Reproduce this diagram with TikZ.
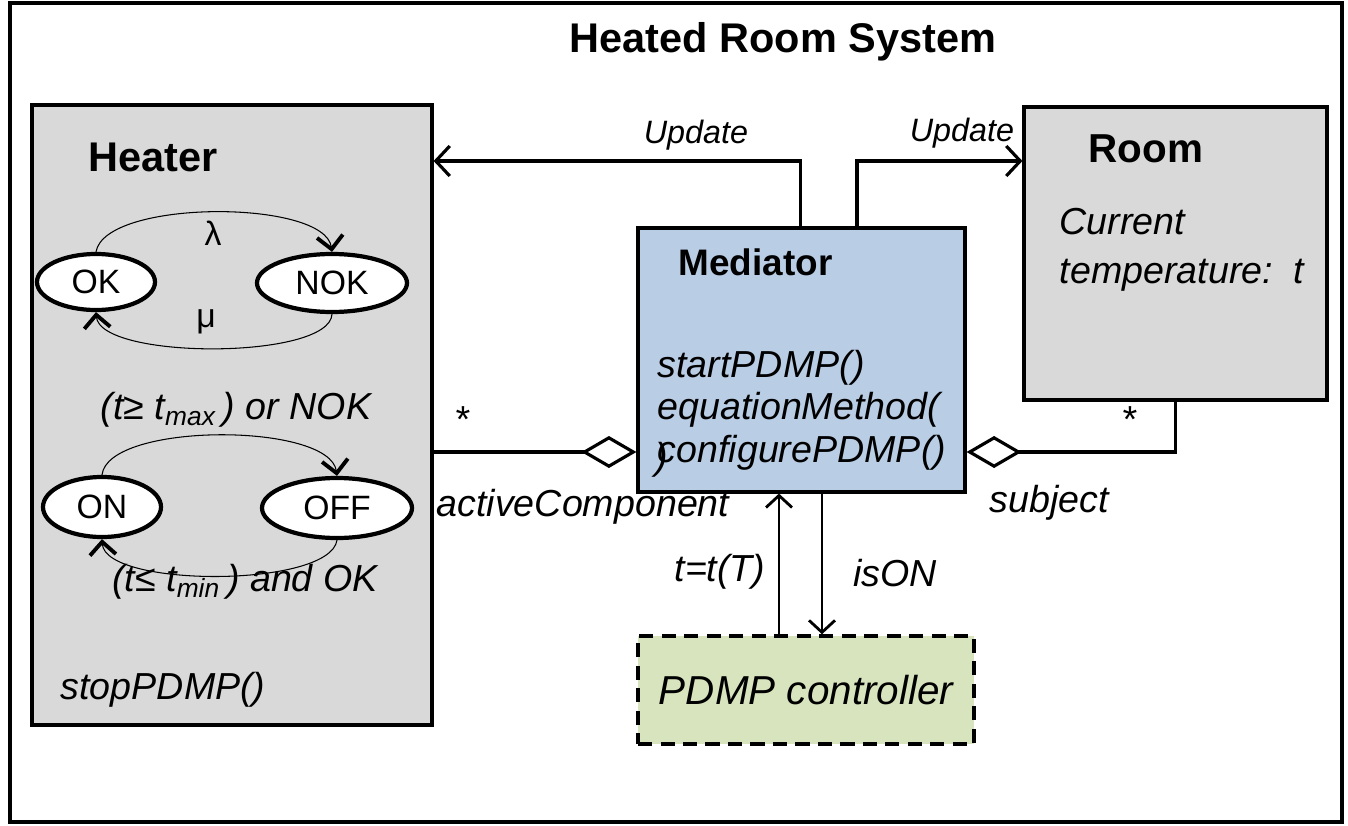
\documentclass[tikz,border=0pt]{standalone}
\usepackage{fontspec}
\setmainfont{Liberation Sans}
\usetikzlibrary{positioning,arrows.meta,shapes.geometric}
\definecolor{boxgray}{RGB}{217,217,217}
\definecolor{medblue}{RGB}{185,205,229}
\definecolor{ctrlgreen}{RGB}{215,228,189}

\begin{document}
\begin{tikzpicture}[
  box/.style={draw, line width=0.9pt, inner sep=0pt},
  state/.style={draw, ellipse, fill=white, line width=1.2pt, inner sep=0pt, font=\fontsize{9.6}{11}\selectfont},
  arr/.style={-{Straight Barb[length=1.4mm,width=3mm]}, line width=0.9pt},
  thinarr/.style={-{Straight Barb[length=1.2mm,width=2.6mm,line width=0.8pt]}, line width=0.35pt},
  trans/.style={-{Straight Barb[length=1.3mm,width=2.6mm,line width=1.1pt]}, line width=0.3pt},
  agg/.style={-{Diamond[fill=white,length=5.5mm,width=3.2mm]}, line width=0.9pt},
  lbl/.style={font=\fontsize{10.7}{12}\selectfont\itshape, inner sep=0pt},
  updlbl/.style={font=\fontsize{9.2}{11}\selectfont\itshape, inner sep=0pt},
  title/.style={font=\fontsize{11.8}{14}\selectfont\bfseries, inner sep=0pt},
]
\useasboundingbox (0,0) rectangle (13.48,-8.26);
\draw[line width=0.9pt] (0.10,-0.03) rectangle (13.42,-8.22);
\node[title] (sys) at (7.83,-0.42) {Heated Room System};

% Heater with its two state machines
\node[box, fill=boxgray, minimum width=4.0cm, minimum height=6.2cm] (heater) at (2.32,-4.15) {};
\node[title, anchor=west] (heatername) at (0.88,-1.57) {Heater};
\node[state, minimum width=1.18cm, minimum height=0.56cm] (ok) at (0.96,-2.82) {OK};
\node[state, minimum width=1.50cm, minimum height=0.58cm] (nok) at (3.32,-2.83) {NOK};
\draw[trans] (ok.north) .. controls (1.05,-1.99) and (3.25,-1.99) .. (nok.north);
\draw[trans] (nok.south) .. controls (3.30,-3.60) and (1.00,-3.60) .. (ok.south);
\node[font=\fontsize{9.6}{11}\selectfont] (lam) at (2.13,-2.33) {λ};
\node[font=\fontsize{9.6}{11}\selectfont] (mu) at (2.06,-3.22) {μ};

\node[state, minimum width=1.18cm, minimum height=0.6cm] (on) at (1.02,-5.07) {ON};
\node[state, minimum width=1.50cm, minimum height=0.6cm] (off) at (3.37,-5.08) {OFF};
\draw[trans] (on.north) .. controls (1.08,-4.22) and (3.30,-4.22) .. (off.north);
\draw[trans] (off.south) .. controls (3.30,-5.88) and (1.05,-5.88) .. (on.south);
\node[lbl] (tmax) at (2.36,-4.10) {(t≥ t\textsubscript{max}\,) or NOK};
\node[lbl] (tmin) at (2.45,-5.82) {(t≤ t\textsubscript{min}\,) and OK};
\node[lbl, anchor=west] (stop) at (0.60,-6.90) {stopPDMP()};

% Mediator
\node[box, fill=medblue, minimum width=3.27cm, minimum height=2.64cm] (mediator) at (8.015,-3.60) {};
\node[font=\fontsize{10.5}{12}\selectfont\bfseries, inner sep=0pt, anchor=west] (medname) at (6.78,-2.62) {Mediator};
\node[lbl, anchor=west, align=left, font=\fontsize{10.7}{12.05}\selectfont\itshape] (methods) at (6.57,-4.10)
  {startPDMP()\\equationMethod(\\configurePDMP()};
\node[lbl] (paren) at (6.62,-4.60) {)};

% Room
\node[box, fill=boxgray, minimum width=3.03cm, minimum height=2.93cm] (room) at (11.755,-2.535) {};
\node[title, font=\fontsize{11.5}{14}\selectfont\bfseries, anchor=west] (roomname) at (10.88,-1.49) {Room};
\node[lbl, anchor=west, align=left, font=\fontsize{10.7}{14}\selectfont\itshape] (temp) at (10.59,-2.50)
  {Current\\temperature:\ \ t};

% PDMP controller
\node[box, dashed, dash pattern=on 4pt off 2.4pt, line width=1pt, fill=ctrlgreen, minimum width=3.36cm, minimum height=1.08cm,
  font=\fontsize{11.5}{13}\selectfont\itshape] (pdmp) at (8.06,-6.90) {PDMP controller};

% connectors
\coordinate (upd) at (0,-1.61);
\coordinate (aggl) at (0,-4.52);
\draw[arr] ([xshift=-0.01cm]mediator.north) |- (heater.east |- upd);
\draw[arr] ([xshift=0.555cm]mediator.north) |- (room.west |- upd);
\node[updlbl] (updl) at (6.96,-1.35) {Update};
\node[updlbl] (updr) at (9.62,-1.33) {Update};

\draw[agg] (heater.east |- aggl) -- (mediator.west |- aggl);
\draw[agg] (room.south) |- (mediator.east |- aggl);
\node[lbl] (starl) at (4.62,-4.20) {*};
\node[lbl] (starr) at (11.29,-4.20) {*};
\node[lbl] (active) at (5.83,-5.07) {activeComponent};
\node[lbl] (subj) at (10.49,-5.03) {subject};

\draw[thinarr] ([xshift=-0.27cm]pdmp.north) -- ([xshift=-0.27cm]pdmp.north |- mediator.south);
\draw[thinarr] ([xshift=0.16cm]pdmp.north |- mediator.south) -- ([xshift=0.16cm]pdmp.north);
\node[lbl] (tT) at (7.20,-5.72) {t=t(T)};
\node[lbl] (ison) at (8.95,-5.73) {isON};
\end{tikzpicture}
\end{document}
